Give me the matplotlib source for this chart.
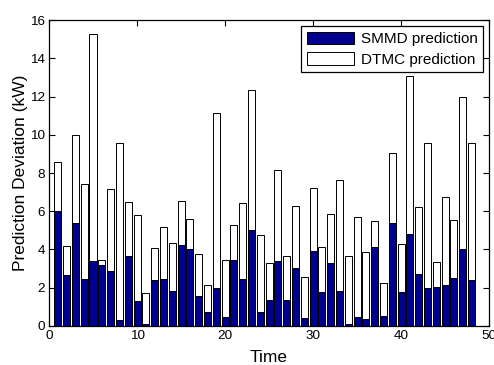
import numpy as np
import matplotlib
matplotlib.use('Agg')
import matplotlib.pyplot as plt

plt.rcParams['font.family'] = ['Liberation Sans', 'DejaVu Sans']

# Prediction deviation per time step (kW)
time = np.arange(1, 49)
smmd = [6.0, 2.65, 5.4, 2.48, 3.38, 3.2, 2.86, 0.3, 3.68, 1.3,
        0.08, 2.38, 2.43, 1.84, 4.24, 4.05, 1.56, 0.71, 1.96, 0.47,
        3.45, 2.48, 5.0, 0.71, 1.36, 3.4, 1.36, 3.04, 0.41, 3.93,
        1.78, 3.27, 1.85, 0.11, 0.49, 0.36, 4.15, 0.53, 5.36, 1.78,
        4.82, 2.73, 1.97, 2.02, 2.14, 2.49, 4.05, 2.4]
dtmc = [8.6, 4.2, 10.0, 7.43, 15.25, 3.45, 7.17, 9.55, 6.47, 5.82,
        1.72, 4.1, 5.16, 4.32, 6.53, 5.57, 3.78, 2.12, 11.15, 3.44,
        5.28, 6.42, 12.34, 4.75, 3.31, 8.18, 3.67, 6.27, 2.56, 7.22,
        4.14, 5.87, 7.66, 3.67, 5.71, 3.88, 5.47, 2.25, 9.03, 4.28,
        13.06, 6.2, 9.59, 3.33, 6.75, 5.53, 11.97, 9.59]

fig = plt.figure(figsize=(4.94, 3.65), dpi=100)
ax = fig.add_axes([0.0992, 0.107, 0.891, 0.838])

# DTMC drawn behind, SMMD in front
b_dtmc = ax.bar(time, dtmc, width=0.8, color='white', edgecolor='black', linewidth=0.7, zorder=2)
b_smmd = ax.bar(time, smmd, width=0.8, color='#00008f', edgecolor='black', linewidth=0.7, zorder=3)

ax.set_xlim(0, 50)
ax.set_ylim(0, 16)
ax.set_xticks(range(0, 51, 10))
ax.set_yticks(range(0, 17, 2))
ax.tick_params(direction='in', top=True, right=True, length=4, labelsize=9.7, pad=3)
for s in ax.spines.values():
    s.set_linewidth(0.9)

ax.set_xlabel('Time', fontsize=12.5, labelpad=5.5)
ax.set_ylabel('Prediction Deviation (kW)', fontsize=12.5, labelpad=1)

leg = ax.legend([b_smmd, b_dtmc], ['SMMD prediction', 'DTMC prediction'],
                loc='upper right', fontsize=11, fancybox=False, framealpha=1,
                edgecolor='black', handlelength=3.1, handleheight=0.9,
                borderaxespad=0.4, borderpad=0.35, labelspacing=0.4, handletextpad=0.45)
leg.get_frame().set_linewidth(0.9)

plt.savefig('out.png', dpi=100)
plt.close()
